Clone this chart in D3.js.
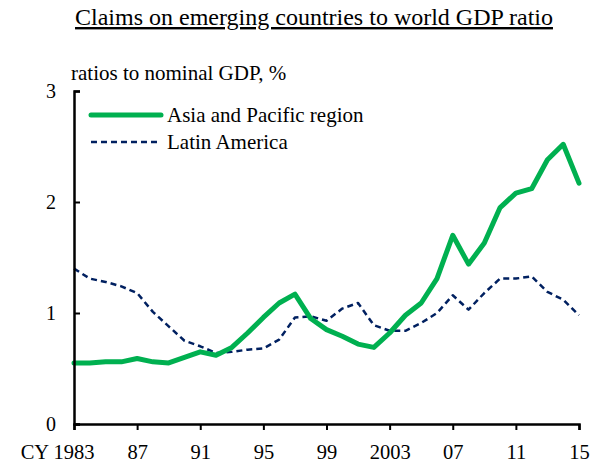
<!DOCTYPE html>
<html>
<head>
<meta charset="utf-8">
<script src="https://cdn.jsdelivr.net/npm/d3@7"></script>
<style>
  body { margin: 0; background: #fff; }
  text { font-family: "Liberation Serif", "Times New Roman", serif; fill: #000; }
</style>
</head>
<body>
<div id="chart"></div>
<script>
// data
const years = d3.range(1983, 2016);
const asiaPacific = [0.55, 0.55, 0.56, 0.56, 0.59, 0.56, 0.55, 0.60, 0.65, 0.62,
    0.69, 0.82, 0.96, 1.09, 1.17, 0.95, 0.85, 0.79, 0.72, 0.69,
    0.82, 0.98, 1.09, 1.31, 1.70, 1.44, 1.63, 1.95, 2.08, 2.12,
    2.38, 2.52, 2.17];
const latinAmerica = [1.40, 1.31, 1.28, 1.24, 1.18, 1.01, 0.88, 0.75, 0.70, 0.64,
    0.65, 0.67, 0.68, 0.76, 0.96, 0.97, 0.93, 1.04, 1.09, 0.89,
    0.84, 0.84, 0.91, 1.00, 1.16, 1.03, 1.18, 1.31, 1.31, 1.33,
    1.19, 1.12, 0.98];
const xTicks = [1983, 1987, 1991, 1995, 1999, 2003, 2007, 2011, 2015];
const xTickLabels = ["CY 1983", "87", "91", "95", "99", "2003", "07", "11", "15"];
const yTicks = [0, 1, 2, 3];

const series = [
    {name: "Asia and Pacific region", values: asiaPacific, color: "#00b050", width: 5, dash: null},
    {name: "Latin America", values: latinAmerica, color: "#002060", width: 2.5, dash: "6,4"}
];

var W = 599, H = 464;
var margin = {top: 91, right: 20, bottom: 40, left: 74};

var svg = d3.select("#chart")
    .append("svg")
    .attr("width", W)
    .attr("height", H);

var x = d3.scaleLinear()
    .domain([1983, 2015])
    .range([margin.left, 579]);

var y = d3.scaleLinear()
    .domain([0, 3])
    .range([424, margin.top]);

// title
svg.append("text")
    .attr("x", 314)
    .attr("y", 25)
    .attr("text-anchor", "middle")
    .style("font-size", "24px")
    .style("text-decoration", "underline")
    .text("Claims on emerging countries to world GDP ratio");

svg.append("text")
    .attr("x", 71)
    .attr("y", 80)
    .style("font-size", "21px")
    .text("ratios to nominal GDP, %");

// lines
var line = d3.line()
    .x((d, i) => x(years[i]))
    .y(d => y(d));

series.slice().reverse().forEach(s => {
    svg.append("path")
        .datum(s.values)
        .attr("fill", "none")
        .attr("stroke", s.color)
        .attr("stroke-width", s.width)
        .attr("stroke-dasharray", s.dash)
        .attr("stroke-linejoin", "round")
        .attr("stroke-linecap", s.dash ? "butt" : "round")
        .attr("d", line);
});

// y axis
var yAxis = svg.append("g")
    .attr("transform", "translate(" + x(1983) + ",0)")
    .call(d3.axisLeft(y).tickValues(yTicks).tickSize(-6).tickPadding(18).tickFormat(d3.format("d")));
yAxis.select(".domain").attr("stroke", "#000").attr("stroke-width", 2.5);
yAxis.selectAll(".tick line").attr("stroke", "#000").attr("stroke-width", 2);
yAxis.selectAll(".tick text")
    .style("font-size", "20px")
    .style("font-family", "Liberation Serif, serif");

// x axis
var xAxis = svg.append("g")
    .attr("transform", "translate(0," + y(0) + ")")
    .call(d3.axisBottom(x).tickValues(xTicks).tickSize(6).tickPadding(14)
        .tickFormat((d, i) => xTickLabels[i]));
xAxis.select(".domain").attr("stroke", "#000").attr("stroke-width", 2.5);
xAxis.selectAll(".tick line").attr("stroke", "#000").attr("stroke-width", 2);
xAxis.selectAll(".tick text")
    .style("font-size", "20.5px")
    .style("font-family", "Liberation Serif, serif")
    .attr("text-anchor", (d, i) => i === 0 ? "end" : "middle")
    .attr("dx", (d, i) => i === 0 ? 20 : 0);

// legend
var legend = svg.selectAll(".legend")
    .data(series)
    .enter()
    .append("g")
    .attr("class", "legend")
    .attr("transform", (d, i) => "translate(91," + (115 + i * 27) + ")");

legend.append("line")
    .attr("x1", 0)
    .attr("x2", 70)
    .attr("stroke", d => d.color)
    .attr("stroke-width", d => d.width)
    .attr("stroke-dasharray", d => d.dash)
    .attr("stroke-linecap", d => d.dash ? "butt" : "round");

legend.append("text")
    .attr("x", 76)
    .attr("dy", "0.35em")
    .style("font-size", "21px")
    .text(d => d.name);
</script>
</body>
</html>
